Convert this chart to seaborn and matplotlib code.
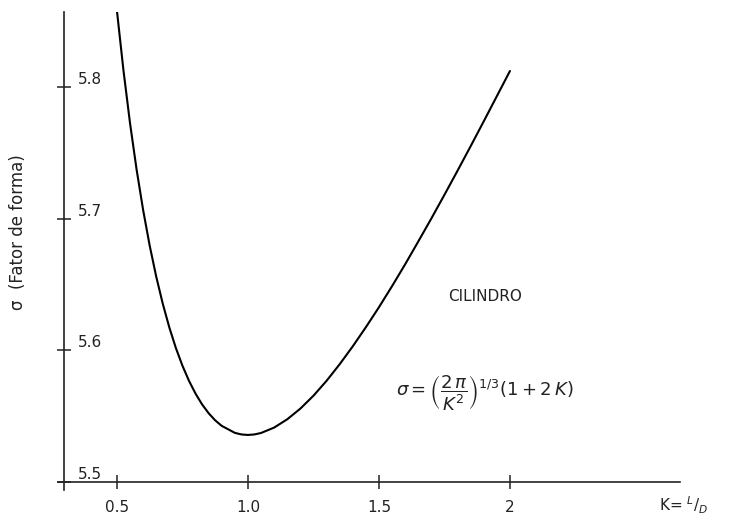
import matplotlib
matplotlib.use("Agg")
import pandas as pd
from matplotlib import pyplot as plt
import seaborn as sns

sns.set_theme(style='white')
plt.rcParams['font.family'] = ['DejaVu Sans']

# K = L/D and shape factor
k_vals = [0.500, 0.525, 0.550, 0.575, 0.600, 0.625, 0.650, 0.675, 0.700,
          0.725, 0.750, 0.775, 0.800, 0.825, 0.850, 0.875, 0.900, 0.950,
          0.975, 1.000, 1.025, 1.050, 1.100, 1.150, 1.200, 1.250, 1.300,
          1.350, 1.400, 1.450, 1.500, 1.550, 1.600, 1.650, 1.700, 1.750,
          1.800, 1.850, 1.900, 1.950, 2.000]
sigma_vals = [5.858, 5.8125, 5.7725, 5.7374, 5.7066, 5.6796, 5.6560, 5.6354,
              5.6174, 5.6018, 5.5884, 5.5769, 5.5672, 5.5590, 5.5523, 5.5469,
              5.5427, 5.5374, 5.5362, 5.5358, 5.5362, 5.5373, 5.5414, 5.5477,
              5.5558, 5.5656, 5.5769, 5.5895, 5.6031, 5.6176, 5.6328, 5.6488,
              5.6654, 5.6827, 5.7002, 5.7182, 5.7365, 5.7551, 5.7740, 5.7931,
              5.8122]
xtick_vals = [0.5, 1.0, 1.5, 2.0]
xtick_labels = ['0.5', '1.0', '1.5', '2']
ytick_vals = [5.5, 5.6, 5.7, 5.8]
ytick_labels = ['5.5', '5.6', '5.7', '5.8']

df = pd.DataFrame({'K': k_vals, 'sigma': sigma_vals})

fig = plt.figure(figsize=(7.33, 5.22), dpi=100)
ax = fig.add_axes([0.0791, 0.0613, 0.8486, 0.9157])

sns.lineplot(data=df, x='K', y='sigma', color='black', linewidth=1.5, ax=ax)

ax.set_xlim(0.275, 2.649)
ax.set_ylim(5.494, 5.857)

# axes drawn as two crossing lines
for s in ['top', 'right']:
    ax.spines[s].set_visible(False)
ax.spines['left'].set_position(('data', 0.2977))
ax.spines['bottom'].set_position(('data', 5.5))
for s in ['left', 'bottom']:
    ax.spines[s].set_color('#222222')
    ax.spines[s].set_linewidth(1.2)

ax.set_xticks(xtick_vals)
ax.set_xticklabels(xtick_labels)
ax.set_yticks(ytick_vals)
ax.set_yticklabels(ytick_labels)
ax.tick_params(axis='both', direction='inout', length=10, width=1.1,
               color='#222222', labelsize=11, labelcolor='#222222',
               bottom=True, left=True)
ax.tick_params(axis='x', pad=8)
ax.tick_params(axis='y', pad=-15)
for lab in ax.get_yticklabels():
    lab.set_horizontalalignment('left')
    lab.set_verticalalignment('bottom')

ax.set_xlabel('')
ax.set_ylabel('σ  (Fator de forma)', fontsize=12, color='#222222')
ax.yaxis.set_label_coords(-0.05, 0.54)

ax.text(1.905, 5.641, 'CILINDRO', fontsize=11, color='#222222',
        ha='center', va='center')
ax.text(1.905, 5.568,
        r'$\sigma = \left(\dfrac{2\,\pi}{K^{2}}\right)^{1/3}(1+2\,K)$',
        fontsize=13, color='#222222', ha='center', va='center')
ax.text(2.57, 5.4825, r'K= $^{L}/_{D}$', fontsize=11, color='#222222',
        ha='left', va='center', clip_on=False)

plt.savefig('out.png', dpi=100)
plt.close()
